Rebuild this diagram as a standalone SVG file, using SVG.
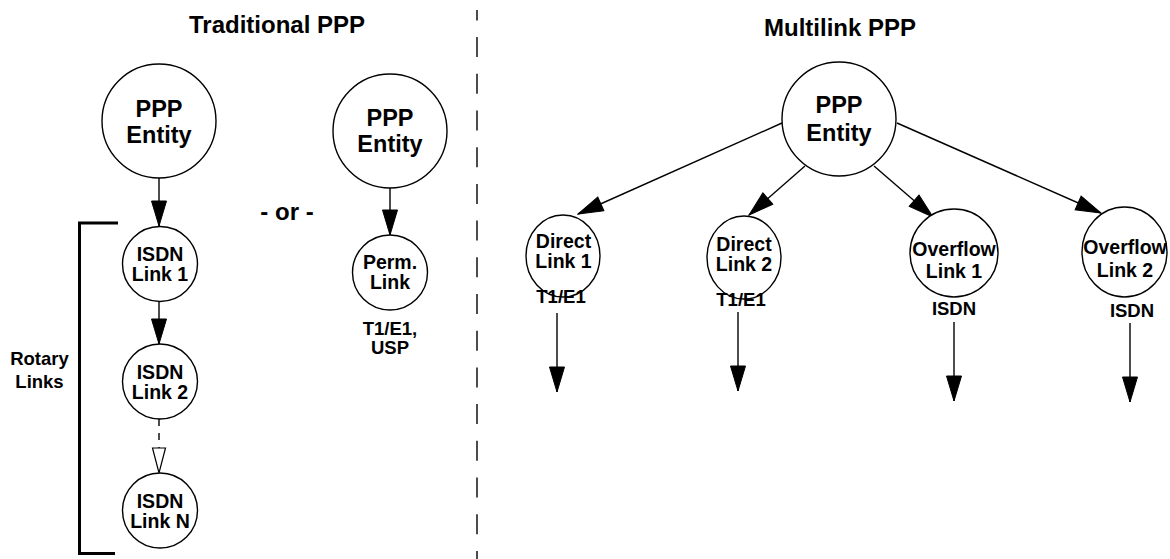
<svg xmlns="http://www.w3.org/2000/svg" width="1170" height="559" viewBox="0 0 1170 559">
<style>
text{font-family:"Liberation Sans","Arial",sans-serif;font-weight:bold;fill:#000;text-anchor:middle}
.t{font-size:24px}
.big{font-size:23.5px}
.sm{font-size:19.5px}
.lb{font-size:18.5px}
.shape{fill:#fff;stroke:#000;stroke-width:1.4}
.conn{stroke:#000;stroke-width:1.4;fill:none}
</style>
<defs>
<marker id="ah" markerUnits="userSpaceOnUse" markerWidth="27" markerHeight="17" viewBox="0 0 27 17" refX="26" refY="8.5" orient="auto">
<path d="M1,1 L26,8.5 L1,16 z" fill="#000" stroke="#000" stroke-width="1"/>
</marker>
<marker id="ao" markerUnits="userSpaceOnUse" markerWidth="28" markerHeight="16" viewBox="0 0 28 16" refX="26" refY="8" orient="auto">
<path d="M1,1.5 L26,8 L1,14.5 z" fill="#fff" stroke="#000" stroke-width="1.2"/>
</marker>
</defs>
<rect width="1170" height="559" fill="#fff"/>

<g id="titles">
<text class="t" x="277" y="33">Traditional PPP</text>
<text class="t" x="840" y="36">Multilink PPP</text>
<text class="t" x="287" y="220">- or -</text>
</g>

<line id="divider" x1="477" y1="10" x2="477" y2="559" stroke="#000" stroke-width="1.4" stroke-dasharray="20 16.7" stroke-dashoffset="9.6"/>

<g id="rotary-bracket">
<path d="M118,223 H79.5 V553.5 H115" fill="none" stroke="#000" stroke-width="3"/>
<text class="lb" x="39.5" y="365">Rotary</text>
<text class="lb" x="39.5" y="388">Links</text>
</g>

<g id="connectors">
<line class="conn" x1="159" y1="178" x2="159" y2="226" marker-end="url(#ah)"/>
<line class="conn" x1="159" y1="302" x2="159" y2="344" marker-end="url(#ah)"/>
<line class="conn" x1="159" y1="419" x2="159" y2="473" stroke-dasharray="7 7" marker-end="url(#ao)"/>
<line class="conn" x1="390" y1="188" x2="390" y2="235" marker-end="url(#ah)"/>
<line class="conn" x1="782" y1="123" x2="578" y2="214" marker-end="url(#ah)"/>
<line class="conn" x1="805" y1="166" x2="749" y2="215" marker-end="url(#ah)"/>
<line class="conn" x1="874" y1="166" x2="933" y2="217" marker-end="url(#ah)"/>
<line class="conn" x1="897" y1="123" x2="1101" y2="213" marker-end="url(#ah)"/>
<line class="conn" x1="557" y1="313" x2="557" y2="392" marker-end="url(#ah)"/>
<line class="conn" x1="738" y1="312" x2="738" y2="391" marker-end="url(#ah)"/>
<line class="conn" x1="954" y1="322" x2="954" y2="401" marker-end="url(#ah)"/>
<line class="conn" x1="1130" y1="323" x2="1130" y2="402" marker-end="url(#ah)"/>
</g>

<g id="ppp-entity-1">
<circle class="shape" cx="159" cy="121" r="57"/>
<text class="big" x="159" y="117">PPP</text>
<text class="big" x="159" y="143">Entity</text>
</g>
<g id="isdn-link-1">
<circle class="shape" cx="160" cy="264" r="37.5"/>
<text class="sm" x="160" y="261">ISDN</text>
<text class="sm" x="160" y="281">Link 1</text>
</g>
<g id="isdn-link-2">
<circle class="shape" cx="160" cy="381.5" r="37.5"/>
<text class="sm" x="160" y="378.5">ISDN</text>
<text class="sm" x="160" y="398.5">Link 2</text>
</g>
<g id="isdn-link-n">
<circle class="shape" cx="160" cy="510.5" r="37.5"/>
<text class="sm" x="160" y="507.5">ISDN</text>
<text class="sm" x="160" y="527.5">Link N</text>
</g>

<g id="ppp-entity-2">
<circle class="shape" cx="390" cy="131" r="57"/>
<text class="big" x="390" y="126">PPP</text>
<text class="big" x="390" y="152">Entity</text>
</g>
<g id="perm-link">
<circle class="shape" cx="390" cy="272.5" r="37.5"/>
<text class="sm" x="390" y="269">Perm.</text>
<text class="sm" x="390" y="289">Link</text>
<text class="lb" x="390" y="335">T1/E1,</text>
<text class="lb" x="390" y="354">USP</text>
</g>

<g id="ppp-entity-3">
<circle class="shape" cx="839" cy="119" r="57"/>
<text class="big" x="839" y="113">PPP</text>
<text class="big" x="839" y="141">Entity</text>
</g>
<g id="direct-link-1">
<ellipse class="shape" cx="563" cy="256" rx="37" ry="41"/>
<text class="sm" x="563.5" y="248">Direct</text>
<text class="sm" x="563.5" y="268">Link 1</text>
<text class="lb" x="561" y="303">T1/E1</text>
</g>
<g id="direct-link-2">
<ellipse class="shape" cx="744" cy="257.5" rx="37" ry="41.5"/>
<text class="sm" x="744" y="251">Direct</text>
<text class="sm" x="744" y="271">Link 2</text>
<text class="lb" x="741" y="306">T1/E1</text>
</g>
<g id="overflow-link-1">
<ellipse class="shape" cx="954" cy="253" rx="44" ry="44"/>
<text class="sm" x="954" y="256">Overflow</text>
<text class="sm" x="954" y="278">Link 1</text>
<text class="lb" x="954" y="315">ISDN</text>
</g>
<g id="overflow-link-2">
<ellipse class="shape" cx="1124.5" cy="252" rx="42.5" ry="45"/>
<text class="sm" x="1125" y="254">Overflow</text>
<text class="sm" x="1125" y="277">Link 2</text>
<text class="lb" x="1132" y="317">ISDN</text>
</g>
</svg>
